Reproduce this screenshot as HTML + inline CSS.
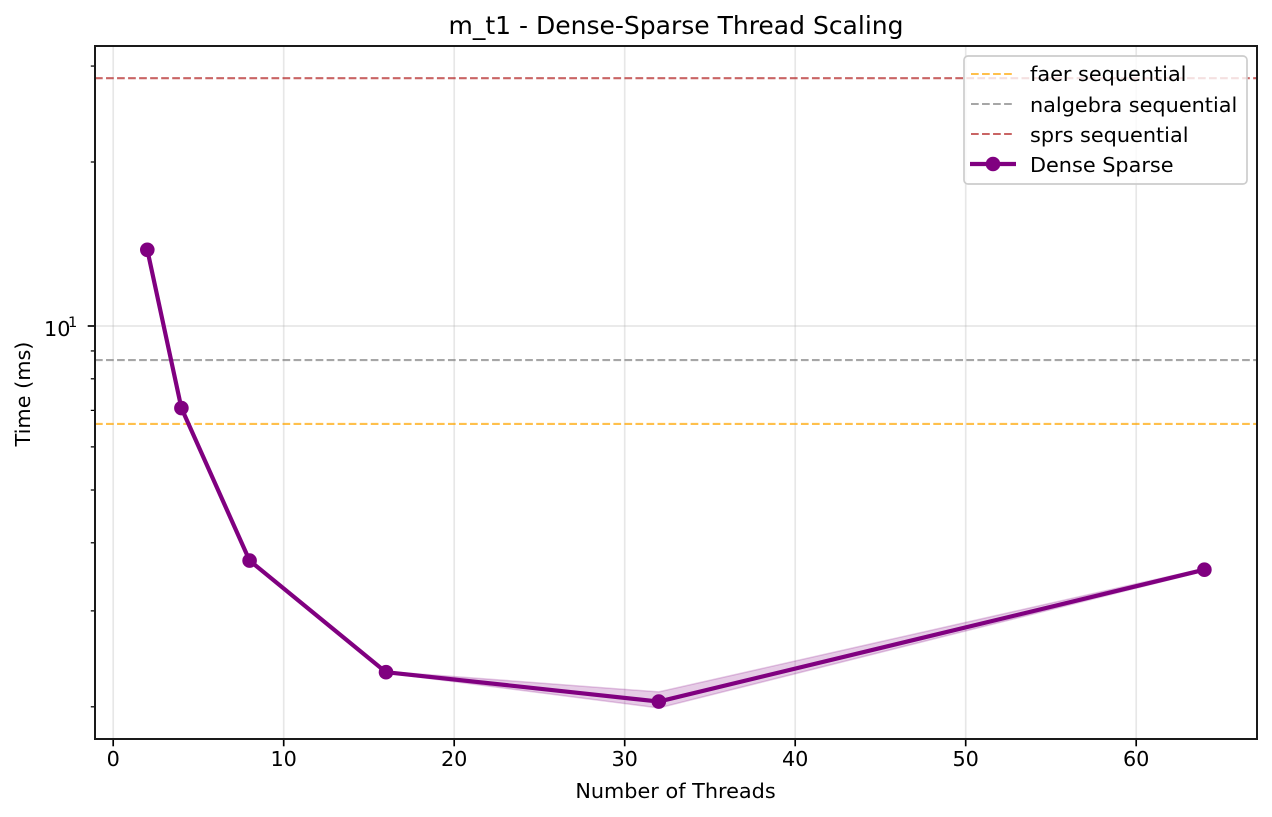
<!DOCTYPE html>
<html lang="en">
<head>
<meta charset="utf-8">
<title>m_t1 - Dense-Sparse Thread Scaling</title>
<style>
html,body{margin:0;padding:0;background:#fff;width:1272px;height:817px;overflow:hidden}
svg{display:block}
text{font-family:"DejaVu Sans","Liberation Sans",sans-serif;fill:#000}
</style>
</head>
<body>
<svg id="chart" xmlns="http://www.w3.org/2000/svg" width="1272" height="817" viewBox="0 0 1272 817">
  <defs><clipPath id="plot-clip"><rect x="95" y="46" width="1162" height="693"/></clipPath></defs>
  <rect x="95" y="46" width="1162" height="693" fill="#fff"/>
  <g id="grid"></g>
  <g id="marks" clip-path="url(#plot-clip)"></g>
  <g id="ticks"></g>
  <rect x="95" y="46" width="1162" height="693" fill="none" stroke="#1a1a1a" stroke-width="2"/>
  <text x="676" y="34" font-size="25" text-anchor="middle">m_t1 - Dense-Sparse Thread Scaling</text>
  <text x="675.5" y="798" font-size="20.8" text-anchor="middle">Number of Threads</text>
  <text transform="translate(30 394) rotate(-90)" font-size="20.8" text-anchor="middle">Time (ms)</text>
  <g id="legend">
    <rect x="964" y="56" width="283" height="128" rx="4" fill="#fff" fill-opacity="0.8" stroke="#cccccc" stroke-width="1.67"/>
    <line x1="971" x2="1013" y1="74" y2="74" stroke="#ffa500" stroke-opacity="0.7" stroke-width="2.08" stroke-dasharray="7.7 3.33"/>
    <text x="1030" y="81" font-size="20.8">faer sequential</text>
    <line x1="971" x2="1013" y1="104" y2="104" stroke="#808080" stroke-opacity="0.7" stroke-width="2.08" stroke-dasharray="7.7 3.33"/>
    <text x="1030" y="112" font-size="20.8">nalgebra sequential</text>
    <line x1="971" x2="1013" y1="134" y2="134" stroke="#b22222" stroke-opacity="0.7" stroke-width="2.08" stroke-dasharray="7.7 3.33"/>
    <text x="1030" y="142" font-size="20.8">sprs sequential</text>
    <line x1="970" x2="1016" y1="164" y2="164" stroke="#800080" stroke-width="4.2"/>
    <circle cx="993" cy="164" r="7.3" fill="#800080"/>
    <text x="1030" y="172" font-size="20.8">Dense Sparse</text>
  </g>
</svg>
<script>
const threads = [2, 4, 8, 16, 32, 64];
const denseSparse = [13.8, 7.07, 3.71, 2.315, 2.045, 3.57];
const denseSparseLow = [13.78, 7.06, 3.70, 2.308, 1.99, 3.55];
const denseSparseHigh = [13.82, 7.08, 3.72, 2.322, 2.13, 3.59];
const faerSequential = 6.61;
const nalgebraSequential = 8.66;
const sprsSequential = 28.5;
const xTicks = [0, 10, 20, 30, 40, 50, 60];
const yMajorTicks = [10];
const yMinorTicks = [2, 3, 4, 5, 6, 7, 8, 9, 20, 30];

const NS = 'http://www.w3.org/2000/svg';
function xScale(v) { return 113.2 + v * 17.05; }
function yScale(v) { return 326 - (Math.log10(v) - 1) * 544.8; }
function make(tag, attrs, parent) {
  const el = document.createElementNS(NS, tag);
  for (const k in attrs) el.setAttribute(k, attrs[k]);
  parent.appendChild(el);
  return el;
}
const gridG = document.getElementById('grid');
const marksG = document.getElementById('marks');
const ticksG = document.getElementById('ticks');

xTicks.forEach(function (t) {
  const x = xScale(t);
  const g = make('line', {x1: x, x2: x, y1: 46, y2: 739, stroke: '#b0b0b0', 'stroke-opacity': 0.3, 'stroke-width': 1.67}, gridG);
  
  
  const tick = make('line', {x1: x, x2: x, y1: 739, y2: 746.3, stroke: '#000', 'stroke-width': 1.67}, ticksG);
  
  
  const label = make('text', {x: x, y: 766, 'font-size': 20.8, 'text-anchor': 'middle'}, ticksG);
  label.textContent = String(t);
  
  
});

yMajorTicks.forEach(function (t) {
  const y = yScale(t);
  const g = make('line', {x1: 95, x2: 1257, y1: y, y2: y, stroke: '#b0b0b0', 'stroke-opacity': 0.3, 'stroke-width': 1.67}, gridG);
  
  
  const tick = make('line', {x1: 87.7, x2: 95, y1: y, y2: y, stroke: '#000', 'stroke-width': 1.67}, ticksG);
  
  
  const label = make('text', {x: 44, y: y + 10, 'font-size': 20.8}, ticksG);
  label.textContent = String(Math.round(t));
  
  
  const exp = make('text', {x: 68, y: y + 1, 'font-size': 14.6}, ticksG);
  exp.textContent = String(Math.round(Math.log10(t)));
  
  
});

yMinorTicks.forEach(function (t) {
  const y = yScale(t);
  const tick = make('line', {x1: 90.8, x2: 95, y1: y, y2: y, stroke: '#000', 'stroke-width': 1.25}, ticksG);
  
  
});

const refSpecs = [
  {value: faerSequential, color: '#ffa500', name: 'faer-sequential-line'},
  {value: nalgebraSequential, color: '#808080', name: 'nalgebra-sequential-line'},
  {value: sprsSequential, color: '#b22222', name: 'sprs-sequential-line'}
];
refSpecs.forEach(function (r) {
  const y = yScale(r.value);
  const l = make('line', {x1: 95, x2: 1257, y1: y, y2: y, stroke: r.color, 'stroke-opacity': 0.7, 'stroke-width': 2.08, 'stroke-dasharray': '7.7 3.33'}, marksG);
  
  
});

const upper = threads.map(function (t, i) { return xScale(t) + ',' + yScale(denseSparseHigh[i]); });
const lower = threads.map(function (t, i) { return xScale(t) + ',' + yScale(denseSparseLow[i]); }).reverse();
const band = make('polygon', {points: upper.concat(lower).join(' '), fill: '#800080', 'fill-opacity': 0.2, stroke: '#800080', 'stroke-opacity': 0.2, 'stroke-width': 1.5}, marksG);



const pts = threads.map(function (t, i) { return xScale(t) + ',' + yScale(denseSparse[i]); }).join(' ');
const line = make('polyline', {points: pts, fill: 'none', stroke: '#800080', 'stroke-width': 4.2, 'stroke-linejoin': 'round'}, marksG);



threads.forEach(function (t, i) {
  const c = make('circle', {cx: xScale(t), cy: yScale(denseSparse[i]), r: 7.3, fill: '#800080'}, marksG);
  
  
});
</script>
</body>
</html>
